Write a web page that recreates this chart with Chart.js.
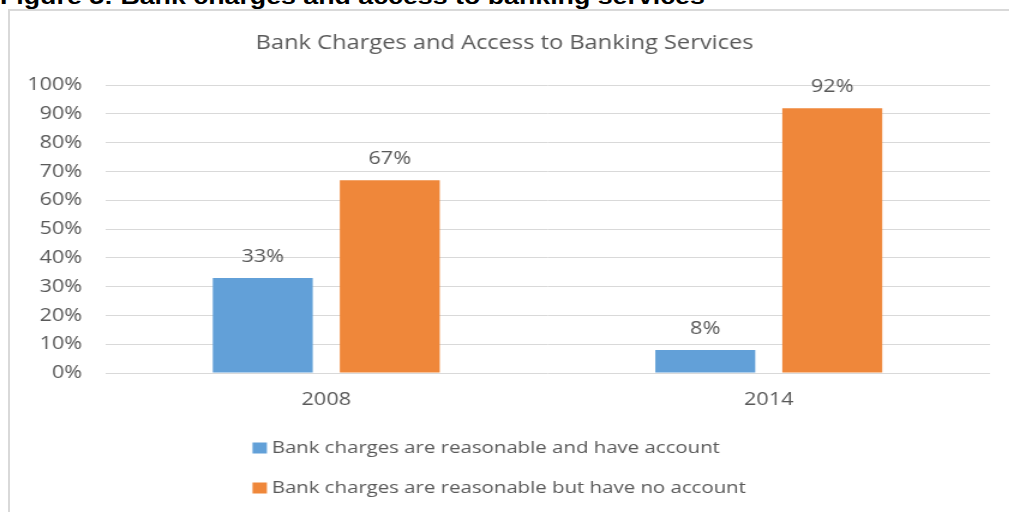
<!DOCTYPE html>
<html>
<head>
<meta charset="utf-8">
<title>Bank Charges and Access to Banking Services</title>
<script src="https://cdn.jsdelivr.net/npm/chart.js@4.4.1/dist/chart.umd.min.js"></script>
<style>
  html, body { margin: 0; padding: 0; background: #fff; overflow: hidden; }
  body { width: 1009px; height: 512px; position: relative; }
  #heading {
    position: absolute; left: 0; top: -13.8px;
    font: bold 22.3px "Liberation Sans", Arial, sans-serif;
    line-height: 22px; color: #000; white-space: nowrap;
    transform: scaleX(1.2); transform-origin: 0 0;
  }
  #box {
    position: absolute; left: 8px; top: 9px; width: 1100px; height: 600px;
    border-top: 2px solid #d9d9d9; border-left: 2px solid #d9d9d9;
  }
  /* the chart is laid out narrow and widened, like the stretched original figure */
  #stretch {
    position: absolute; left: 0; top: 0; width: 841px; height: 512px;
    transform: scaleX(1.2); transform-origin: 0 0;
  }
</style>
</head>
<body>
<div id="heading">Figure 5: Bank charges and access to banking services</div>
<div id="box"></div>
<div id="stretch"><canvas id="chart" width="841" height="512"></canvas></div>
<script>
// survey years
const years = ['2008', '2014'];
// share of respondents, in percent
const haveAccount = [33, 8];
const noAccount = [67, 92];
const seriesNames = [
  'Bank charges are reasonable and have account',
  'Bank charges are reasonable but have no account'
];
// y axis: 0% to 100% in steps of 10
const yMin = 0;
const yMax = 100;
const yStep = 10;

const textColor = '#595959';
const fontFamily = '"Open Sans", "Noto Sans", sans-serif';

// value labels above each bar
const barValueLabels = {
  id: 'barValueLabels',
  afterDatasetsDraw(chart) {
    const ctx = chart.ctx;
    ctx.save();
    ctx.font = '18px ' + fontFamily;
    ctx.fillStyle = textColor;
    ctx.textAlign = 'center';
    ctx.textBaseline = 'middle';
    chart.data.datasets.forEach((ds, i) => {
      chart.getDatasetMeta(i).data.forEach((bar, j) => {
        ctx.fillText(ds.data[j] + '%', bar.x, bar.y - 21);
      });
    });
    ctx.restore();
  }
};

// legend stacked in two rows, left aligned, block centred under the chart
const stackedLegend = {
  id: 'stackedLegend',
  afterDraw(chart) {
    const ctx = chart.ctx;
    const boxW = 12, boxH = 11, gap = 4;
    ctx.save();
    ctx.font = '17px ' + fontFamily;
    const widest = Math.max(...chart.data.datasets.map(d => ctx.measureText(d.label).width));
    const left = (chart.width - (boxW + gap + widest)) / 2 - 4.5;
    chart.data.datasets.forEach((ds, i) => {
      const y = chart.chartArea.bottom + 75 + i * 40;
      ctx.fillStyle = ds.backgroundColor;
      ctx.fillRect(left, y - boxH / 2, boxW, boxH);
      ctx.fillStyle = textColor;
      ctx.textAlign = 'left';
      ctx.textBaseline = 'middle';
      ctx.fillText(ds.label, left + boxW + gap, y);
    });
    ctx.restore();
  }
};

new Chart(document.getElementById('chart'), {
  type: 'bar',
  data: {
    labels: years,
    datasets: [{
      label: seriesNames[0],
      data: haveAccount,
      backgroundColor: '#62a0d8',
      categoryPercentage: 0.574,
      barPercentage: 0.787
    }, {
      label: seriesNames[1],
      data: noAccount,
      backgroundColor: '#ef873a',
      categoryPercentage: 0.574,
      barPercentage: 0.787
    }]
  },
  options: {
    responsive: false,
    animation: false,
    // equal side padding keeps the title centred on the whole figure
    layout: { padding: { left: 16, right: 16, top: 0, bottom: 0 } },
    plugins: {
      legend: { display: false },
      tooltip: { enabled: false },
      title: {
        display: true,
        text: 'Bank Charges and Access to Banking Services',
        color: textColor,
        font: { family: fontFamily, size: 19.7, weight: 'normal' },
        padding: { top: 31.5, bottom: 30 }
      }
    },
    scales: {
      x: {
        grid: { display: false, drawTicks: false },
        border: { display: false },
        ticks: { color: textColor, font: { family: fontFamily, size: 18 }, padding: 16 },
        afterFit: s => { s.height = 139; }
      },
      y: {
        min: yMin,
        max: yMax,
        grid: { color: '#d9d9d9', lineWidth: 1, drawTicks: false },
        border: { display: false },
        ticks: {
          stepSize: yStep,
          color: textColor,
          font: { family: fontFamily, size: 18 },
          padding: 19,
          callback: v => v + '%'
        },
        afterFit: s => { s.width = 71.5; }
      }
    }
  },
  plugins: [barValueLabels, stackedLegend]
});
</script>
</body>
</html>
